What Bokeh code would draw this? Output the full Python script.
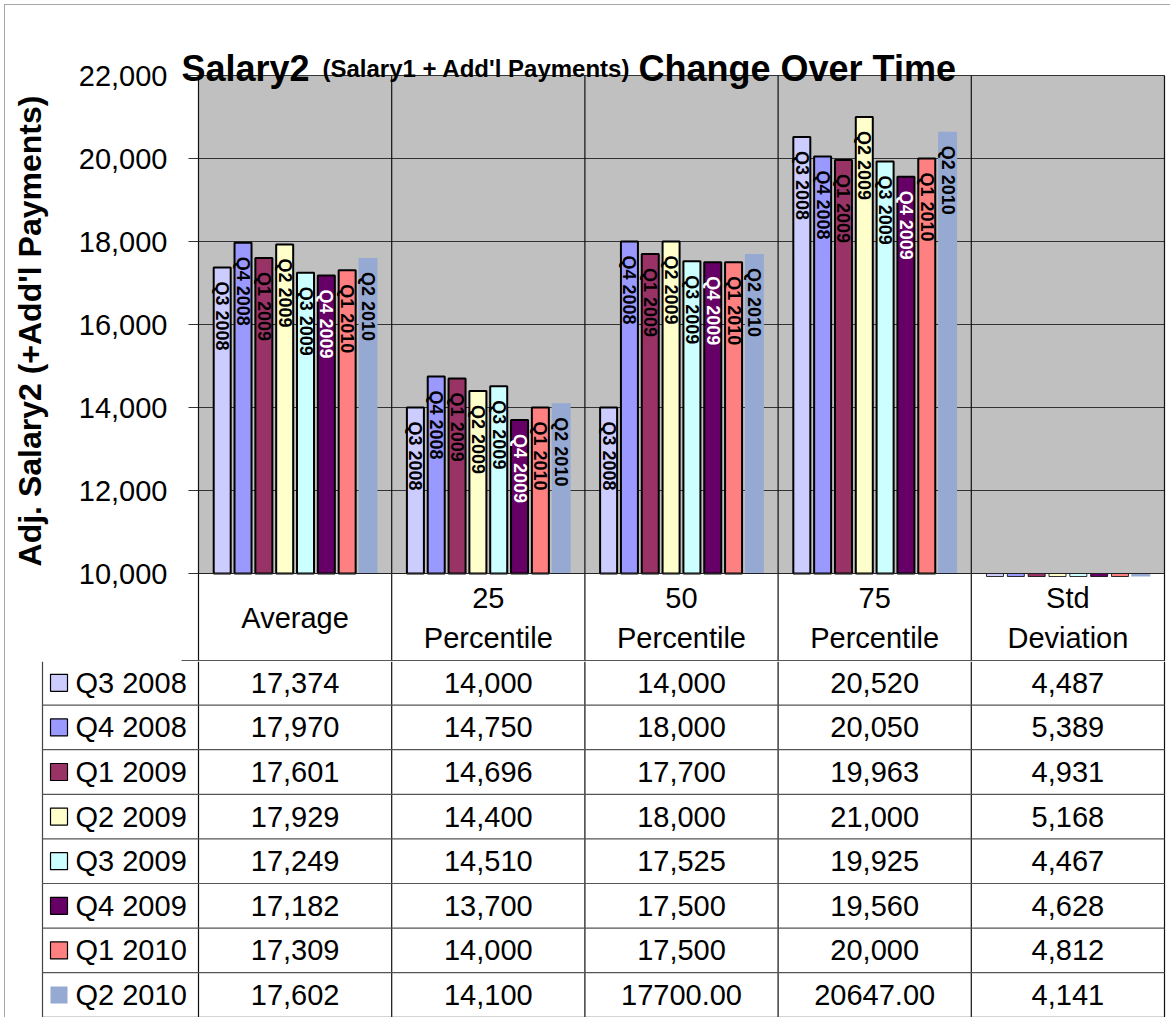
import math
from bokeh.plotting import figure
from bokeh.models import Range1d, FixedTicker, NumeralTickFormatter, ColumnDataSource
from bokeh.core.properties import value
from bokeh.embed import file_html
from bokeh.resources import INLINE

# ---------------- data ----------------
categories = ["Average", "25 Percentile", "50 Percentile", "75 Percentile", "Std Deviation"]
category_labels = ["Average", "25\nPercentile", "50\nPercentile", "75\nPercentile", "Std\nDeviation"]
series_names = ["Q3 2008", "Q4 2008", "Q1 2009", "Q2 2009", "Q3 2009", "Q4 2009", "Q1 2010", "Q2 2010"]

q3_2008 = [17374, 14000, 14000, 20520, 4487]
q4_2008 = [17970, 14750, 18000, 20050, 5389]
q1_2009 = [17601, 14696, 17700, 19963, 4931]
q2_2009 = [17929, 14400, 18000, 21000, 5168]
q3_2009 = [17249, 14510, 17525, 19925, 4467]
q4_2009 = [17182, 13700, 17500, 19560, 4628]
q1_2010 = [17309, 14000, 17500, 20000, 4812]
q2_2010 = [17602, 14100, 17700, 20647, 4141]
series_values = [q3_2008, q4_2008, q1_2009, q2_2009, q3_2009, q4_2009, q1_2010, q2_2010]

# cells the source table shows with two decimals instead of thousands separators
decimal_cells = {("Q2 2010", "50 Percentile"), ("Q2 2010", "75 Percentile")}

y_ticks = [10000, 12000, 14000, 16000, 18000, 20000, 22000]

title_parts = ["Salary2", "(Salary1 + Add'l Payments)", "Change Over Time"]
y_title = "Adj. Salary2 (+Add'l Payments)"

colors = ["#CCCCFF", "#9999FF", "#993366", "#FFFFCC", "#CCFFFF", "#660066", "#FF8080", "#96A9D3"]
bordered = [True, True, True, True, True, True, True, False]
label_colors = ["black", "black", "black", "black", "black", "white", "black", "black"]

FONT = "Liberation Sans"

# ---------------- layout constants (page pixels) ----------------
PAGE_W = 1170
PLOT_LEFT = 198            # left edge of the grey plot area
CAT_PX = 966 / len(categories)
PLOT_TOP, PLOT_BOTTOM = 75, 573
Y_MIN, Y_MAX = 10000, 22000
UPP = (Y_MAX - Y_MIN) / (PLOT_BOTTOM - PLOT_TOP)   # data units per pixel
CHART_FRAME_LEFT = 181
CHART_H = 661              # chart canvas: title, plot area and table header row
HEADER_BOTTOM = 660
STUB_PX = 3                # Excel lets out-of-range bars show a few pixels below the axis


def px_to_x(px):
    return (px - PLOT_LEFT) / CAT_PX


def py_to_y(py):
    return Y_MAX - (py - PLOT_TOP) * UPP


# ---------------- chart figure ----------------
p1 = figure(width=PAGE_W, height=CHART_H,
            min_border_left=CHART_FRAME_LEFT, min_border_right=0,
            min_border_top=0, min_border_bottom=0,
            x_range=Range1d(px_to_x(CHART_FRAME_LEFT), px_to_x(PAGE_W)),
            y_range=Range1d(py_to_y(CHART_H), py_to_y(0)),
            output_backend="svg", toolbar_location=None)
p1.background_fill_alpha = 0
p1.border_fill_alpha = 0
p1.outline_line_color = None
p1.xaxis.visible = False
p1.grid.visible = False
# thin grey chart-area border at the left and top, as in the source
p1.styles = {"box-shadow": "inset 4px 4px 0 0 #ffffff, inset 5px 5px 0 0 #a6a6a6",
             "background-color": "#ffffff"}

yaxis = p1.yaxis[0]
yaxis.ticker = FixedTicker(ticks=y_ticks)
yaxis.formatter = NumeralTickFormatter(format="0,0")
yaxis.major_label_text_font = FONT
yaxis.major_label_text_font_size = "29px"
yaxis.major_label_text_color = "black"
yaxis.major_label_standoff = 14
yaxis.major_tick_out = 0
yaxis.major_tick_in = 0
yaxis.major_tick_line_color = None
yaxis.minor_tick_line_color = None
yaxis.axis_line_color = None
yaxis.axis_label = y_title
yaxis.axis_label_text_font = FONT
yaxis.axis_label_text_font_size = "32px"
yaxis.axis_label_text_font_style = "bold"
yaxis.axis_label_text_color = "black"
yaxis.axis_label_standoff = 28

ncat = len(categories)
# grey plot area
p1.quad(left=[0], right=[ncat], bottom=[Y_MIN], top=[Y_MAX],
        fill_color="#C0C0C0", line_color=None)
# horizontal gridlines (with the little tick stubs left of the plot area)
p1.segment(x0=[px_to_x(188)] * len(y_ticks), y0=y_ticks, x1=[ncat] * len(y_ticks), y1=y_ticks,
           line_color="#333333", line_width=1)
# category separators, running down through the table header
vx = [float(i) for i in range(ncat + 1)]
p1.segment(x0=vx, y0=[Y_MAX] * len(vx), x1=vx, y1=[py_to_y(CHART_H)] * len(vx),
           line_color="#111111", line_width=1.2)

n = len(series_names)
pitch = 0.1078
stub_floor = Y_MIN - STUB_PX * UPP
for j, (name, vals) in enumerate(zip(series_names, series_values)):
    xs = [i + 0.5 + (j - (n - 1) / 2) * pitch for i in range(ncat)]
    tops = [v if v >= Y_MIN else max(v, stub_floor) for v in vals]
    lw = [2 if v >= Y_MIN else 0.8 for v in vals]
    src = ColumnDataSource(dict(x=xs, top=tops, bottom=[Y_MIN] * len(vals), lw=lw))
    if bordered[j]:
        p1.vbar(x="x", top="top", bottom="bottom", width=0.088, source=src,
                fill_color=colors[j], line_color="black", line_width="lw")
    else:
        p1.vbar(x="x", top="top", bottom="bottom", width=0.098, source=src,
                fill_color=colors[j], line_color=None)
    lx = [x for x, v in zip(xs, vals) if v > Y_MIN]
    ly = [v - 14 * UPP for v in vals if v > Y_MIN]
    p1.text(x=lx, y=ly, text=[name] * len(lx), angle=-math.pi / 2,
            text_align="left", text_baseline="middle",
            text_font=value(FONT), text_font_size="18px", text_font_style="bold",
            text_color=label_colors[j])

# axis line at the bottom of the plot area
p1.segment(x0=[0], y0=[Y_MIN], x1=[ncat], y1=[Y_MIN], line_color="#222222", line_width=1.2)

# chart title (mixed sizes)
title_x_px = [181, 322, 638]
title_sizes = ["36px", "24px", "36px"]
for txt, px, size in zip(title_parts, title_x_px, title_sizes):
    p1.text(x=[px_to_x(px)], y=[py_to_y(68)], text=[txt],
            text_align="left", text_baseline="alphabetic",
            text_font=value(FONT), text_font_size=size, text_font_style="bold",
            text_color="black")

# data table header row
p1.text(x=[i + 0.5 for i in range(ncat)], y=[py_to_y(617)] * ncat,
        text=category_labels, text_align="center", text_baseline="middle",
        text_font=value(FONT), text_font_size="29px", text_color="black",
        text_line_height=1.25)
p1.segment(x0=[px_to_x(42)], y0=[py_to_y(HEADER_BOTTOM)], x1=[ncat], y1=[py_to_y(HEADER_BOTTOM)],
           line_color="#555555", line_width=1.2)

# ---------------- data table rows ----------------
TABLE_H = 1017 - CHART_H
ROW_H = 44.6
OFF = CHART_H - HEADER_BOTTOM   # rows start this many px above the table canvas

p2 = figure(width=PAGE_W, height=TABLE_H,
            min_border_left=0, min_border_right=0, min_border_top=0, min_border_bottom=0,
            x_range=Range1d(px_to_x(0), px_to_x(PAGE_W)),
            y_range=Range1d(TABLE_H, 0),
            output_backend="svg", toolbar_location=None)
p2.axis.visible = False
p2.grid.visible = False
p2.outline_line_color = None
p2.background_fill_alpha = 0
p2.border_fill_alpha = 0
p2.styles = {"box-shadow": "inset 4px 0 0 0 #ffffff, inset 5px 0 0 0 #a6a6a6",
             "background-color": "#ffffff"}

leg_left = px_to_x(42)
p2.segment(x0=vx, y0=[0] * len(vx), x1=vx, y1=[TABLE_H] * len(vx),
           line_color="#111111", line_width=1.2)
p2.segment(x0=[leg_left], y0=[0], x1=[leg_left], y1=[TABLE_H],
           line_color="#444444", line_width=1.2)
hy = [k * ROW_H - OFF for k in range(1, n + 1)]
p2.segment(x0=[leg_left] * len(hy), y0=hy, x1=[float(ncat)] * len(hy), y1=hy,
           line_color="#555555", line_width=1.2)

for j, (name, vals) in enumerate(zip(series_names, series_values)):
    yc = (j + 0.5) * ROW_H - OFF
    p2.scatter(x=[px_to_x(58.5)], y=[yc], marker="square", size=17,
               fill_color=colors[j], line_color="black" if bordered[j] else None,
               line_width=1.2)
    p2.text(x=[px_to_x(75)], y=[yc], text=[name], text_align="left", text_baseline="middle",
            text_font=value(FONT), text_font_size="29px", text_color="black")
    cells = []
    for cat, v in zip(categories, vals):
        if (name, cat) in decimal_cells:
            cells.append("{:.2f}".format(v))
        else:
            cells.append("{:,}".format(v))
    p2.text(x=[i + 0.5 for i in range(ncat)], y=[yc] * ncat,
            text=cells, text_align="center", text_baseline="middle",
            text_font=value(FONT), text_font_size="29px", text_color="black")

open("out.html", "w").write(file_html([p1, p2], INLINE))
